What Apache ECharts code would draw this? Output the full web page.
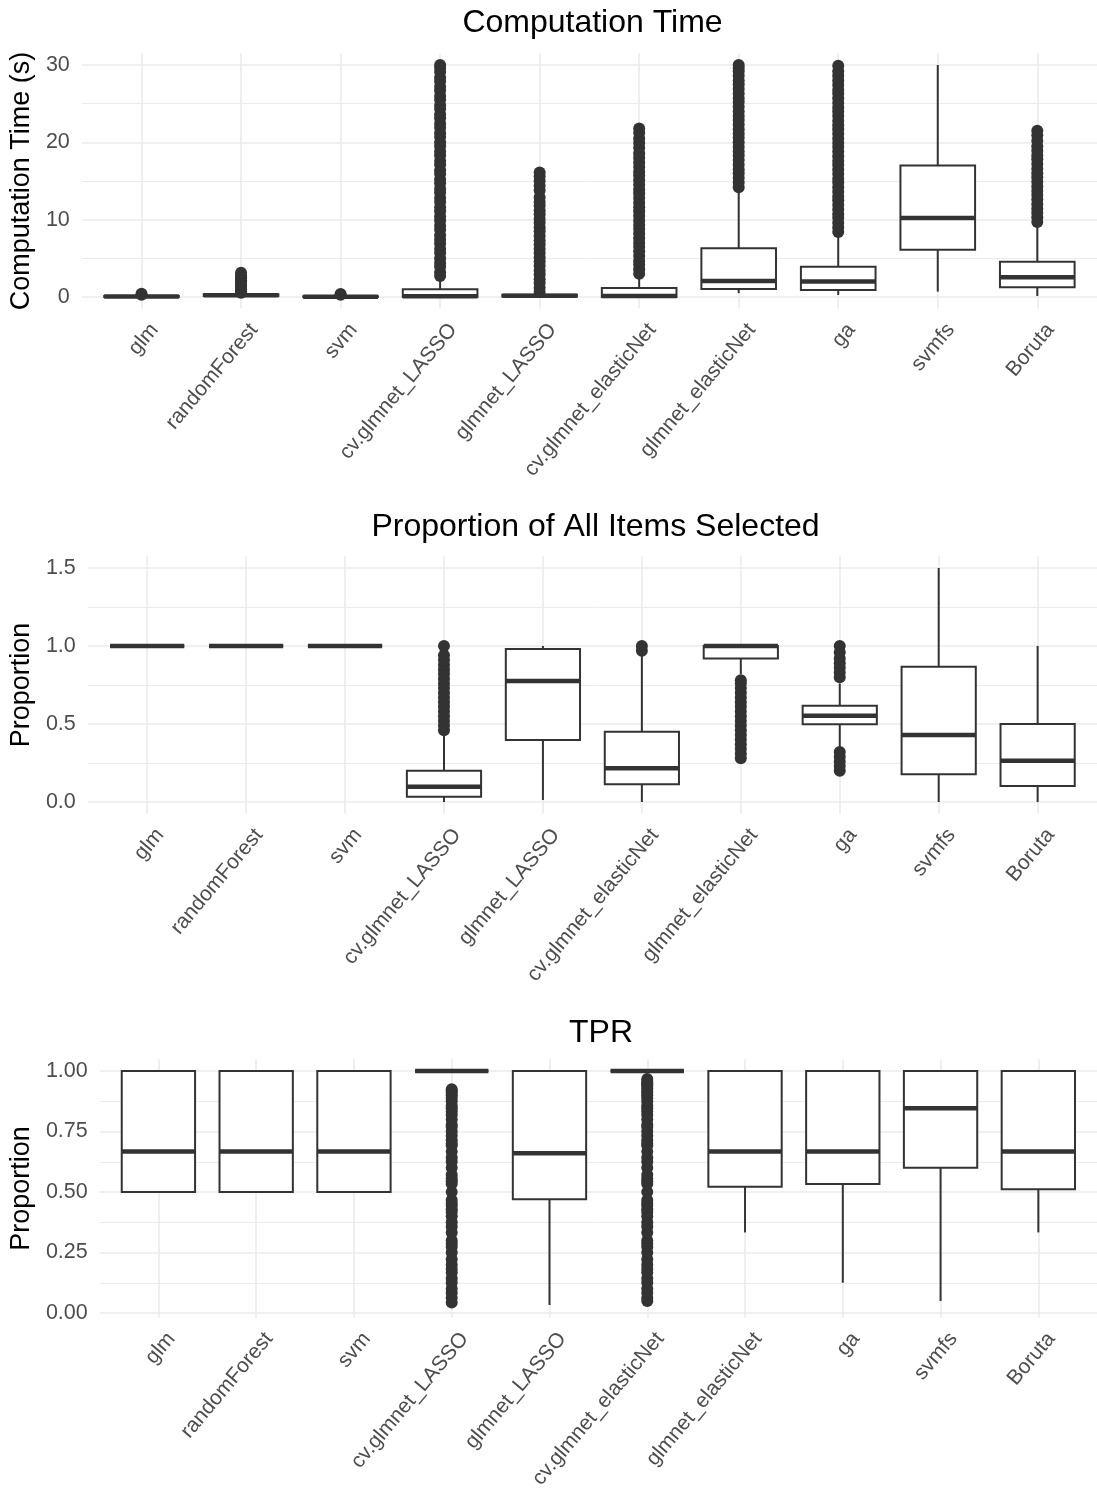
<!DOCTYPE html>
<html>
<head>
<meta charset="utf-8">
<script src="https://cdn.jsdelivr.net/npm/echarts@6/dist/echarts.min.js"></script>
<style>
  html, body { margin: 0; padding: 0; background: #ffffff; }
  #chart { width: 1097px; height: 1492px; }
</style>
</head>
<body>
<div id="chart"></div>
<script>
// ---- data -------------------------------------------------------------
const categories = ['glm', 'randomForest', 'svm', 'cv.glmnet_LASSO', 'glmnet_LASSO',
  'cv.glmnet_elasticNet', 'glmnet_elasticNet', 'ga', 'svmfs', 'Boruta'];

// each row: [lower whisker, Q1, median, Q3, upper whisker]
const timeBoxes = [
  [0.0, 0.01, 0.05, 0.12, 0.25],
  [0.02, 0.12, 0.22, 0.36, 0.5],
  [0.0, 0.01, 0.04, 0.1, 0.22],
  [0.0, 0.0, 0.1, 1.0, 2.6],
  [0.0, 0.08, 0.15, 0.3, 0.6],
  [0.0, 0.0, 0.12, 1.15, 2.8],
  [0.5, 1.03, 2.07, 6.3, 14.0],
  [0.26, 0.9, 2.0, 3.9, 8.2],
  [0.7, 6.1, 10.2, 17.0, 30.0],
  [0.13, 1.25, 2.55, 4.57, 9.5]
];
const timeOutliers = [
  [0.3, 0.42],
  [0.55, 0.75, 0.95, 1.15, 1.35, 1.55, 1.75, 1.95, 2.15, 2.35, 2.55, 2.8, 3.15],
  [0.28, 0.38],
  [2.7, 3.2, 3.9, 4.4, 5.0, 5.7, 6.2, 6.9, 7.4, 8.0, 8.7, 9.2, 9.9, 10.4, 11.1, 11.6, 12.3, 12.8,
   13.5, 14.0, 14.7, 15.2, 15.9, 16.4, 17.1, 17.6, 18.3, 18.8, 19.5, 20.0, 20.7, 21.2, 21.9, 22.4,
   23.1, 23.6, 24.3, 24.8, 25.5, 26.0, 26.7, 27.2, 27.9, 28.4, 29.1, 29.6, 30.0],
  [0.65, 1.2, 1.8, 2.3, 2.9, 3.4, 4.0, 4.6, 5.1, 5.7, 6.2, 6.8, 7.3, 7.9, 8.5, 9.0, 9.6, 10.1,
   10.7, 11.2, 11.8, 12.3, 12.9, 13.8, 14.4, 15.0, 15.6, 16.1],
  [3.0, 3.6, 4.2, 4.7, 5.3, 5.9, 6.5, 7.0, 7.6, 8.2, 8.8, 9.3, 9.9, 10.5, 11.1, 11.6, 12.2, 12.8,
   13.4, 13.9, 14.5, 15.1, 15.7, 16.2, 16.8, 17.4, 18.0, 18.6, 19.3, 19.9, 20.5, 21.2, 21.8],
  [14.2, 14.8, 15.4, 16.0, 16.5, 17.1, 17.7, 18.3, 18.8, 19.4, 20.0, 20.6, 21.1, 21.7, 22.3, 22.9,
   23.4, 24.0, 24.6, 25.2, 25.7, 26.3, 26.9, 27.5, 28.0, 28.6, 29.2, 29.6, 30.0],
  [8.4, 9.0, 9.6, 10.2, 10.7, 11.3, 11.9, 12.5, 13.0, 13.6, 14.2, 14.8, 15.3, 15.9, 16.5, 17.1,
   17.6, 18.2, 18.8, 19.4, 19.9, 20.5, 21.1, 21.7, 22.2, 22.8, 23.4, 24.0, 24.5, 25.1, 25.7, 26.3,
   26.8, 27.4, 28.0, 28.6, 29.2, 29.9],
  [],
  [9.7, 10.3, 10.9, 11.4, 12.0, 12.6, 13.2, 13.7, 14.3, 14.9, 15.5, 16.0, 16.6, 17.2, 17.8, 18.3,
   18.9, 19.5, 20.2, 20.9, 21.5]
];

const propBoxes = [
  [1, 1, 1, 1, 1],
  [1, 1, 1, 1, 1],
  [1, 1, 1, 1, 1],
  [0.0, 0.034, 0.098, 0.2, 0.44],
  [0.013, 0.397, 0.776, 0.98, 1.0],
  [0.0, 0.113, 0.216, 0.45, 0.94],
  [0.82, 0.92, 1.0, 1.0, 1.0],
  [0.354, 0.498, 0.553, 0.617, 0.76],
  [0.0, 0.178, 0.43, 0.867, 1.5],
  [0.0, 0.103, 0.265, 0.5, 1.0]
];
const propOutliers = [
  [], [], [],
  [0.46, 0.49, 0.52, 0.55, 0.58, 0.61, 0.64, 0.67, 0.70, 0.73, 0.76, 0.79, 0.82, 0.85, 0.88,
   0.91, 0.94, 1.0],
  [],
  [0.97, 1.0],
  [0.28, 0.31, 0.34, 0.37, 0.40, 0.43, 0.46, 0.49, 0.52, 0.55, 0.58, 0.61, 0.64, 0.67, 0.70,
   0.73, 0.76, 0.78],
  [0.2, 0.23, 0.26, 0.29, 0.32, 0.80, 0.83, 0.86, 0.89, 0.92, 0.96, 1.0],
  [],
  []
];

const tprBoxes = [
  [0.5, 0.5, 0.667, 1.0, 1.0],
  [0.5, 0.5, 0.667, 1.0, 1.0],
  [0.5, 0.5, 0.667, 1.0, 1.0],
  [1.0, 1.0, 1.0, 1.0, 1.0],
  [0.033, 0.47, 0.66, 1.0, 1.0],
  [1.0, 1.0, 1.0, 1.0, 1.0],
  [0.333, 0.522, 0.667, 1.0, 1.0],
  [0.125, 0.533, 0.667, 1.0, 1.0],
  [0.05, 0.6, 0.846, 1.0, 1.0],
  [0.333, 0.512, 0.667, 1.0, 1.0]
];
const tprOutliers = [
  [], [], [],
  [0.043, 0.0625, 0.083, 0.1, 0.125, 0.143, 0.167, 0.182, 0.2, 0.222, 0.25, 0.273, 0.286, 0.3,
   0.333, 0.357, 0.375, 0.4, 0.417, 0.429, 0.444, 0.455, 0.467, 0.5, 0.533, 0.545, 0.556, 0.571,
   0.6, 0.625, 0.643, 0.667, 0.692, 0.7, 0.714, 0.733, 0.75, 0.769, 0.778, 0.8, 0.818, 0.833,
   0.846, 0.857, 0.875, 0.889, 0.9, 0.909, 0.917, 0.925],
  [],
  [0.05, 0.0625, 0.083, 0.1, 0.125, 0.143, 0.167, 0.182, 0.2, 0.222, 0.25, 0.273, 0.286, 0.3,
   0.333, 0.357, 0.375, 0.4, 0.417, 0.429, 0.444, 0.455, 0.467, 0.5, 0.533, 0.545, 0.556, 0.571,
   0.6, 0.625, 0.643, 0.667, 0.692, 0.7, 0.714, 0.733, 0.75, 0.769, 0.778, 0.8, 0.818, 0.833,
   0.846, 0.857, 0.875, 0.889, 0.9, 0.909, 0.917, 0.929, 0.938, 0.944, 0.95, 0.958, 0.967],
  [], [], [], []
];

const timeTicks = [0, 10, 20, 30];
const timeMinorTicks = [5, 15, 25];
const timeTickLabels = ['0', '10', '20', '30'];
const propTicks = [0, 0.5, 1, 1.5];
const propMinorTicks = [0.25, 0.75, 1.25];
const propTickLabels = ['0.0', '0.5', '1.0', '1.5'];
const tprTicks = [0, 0.25, 0.5, 0.75, 1];
const tprMinorTicks = [0.125, 0.375, 0.625, 0.875];
const tprTickLabels = ['0.00', '0.25', '0.50', '0.75', '1.00'];

// ---- panel layout -----------------------------------------------------
const FONT = "'Liberation Sans', Arial, Helvetica, sans-serif";
const INK = '#333333';
const GRID_COLOR = '#ebebeb';
const LABEL_NUDGE = 0.05;   // category labels sit a touch right of their tick

const panels = [
  { title: 'Computation Time', yName: 'Computation Time (s)', boxes: timeBoxes, outliers: timeOutliers,
    ticks: timeTicks, minor: timeMinorTicks, labels: timeTickLabels,
    yMin: -1.5, yMax: 31.5, left: 80.5, top: 53.4, width: 1024, height: 255.2, titleTop: 7.5 },
  { title: 'Proportion of All Items Selected', yName: 'Proportion', boxes: propBoxes, outliers: propOutliers,
    ticks: propTicks, minor: propMinorTicks, labels: propTickLabels,
    yMin: -0.075, yMax: 1.575, left: 86.5, top: 556.3, width: 1018, height: 257.4, titleTop: 511.5 },
  { title: 'TPR', yName: 'Proportion', boxes: tprBoxes, outliers: tprOutliers,
    ticks: tprTicks, minor: tprMinorTicks, labels: tprTickLabels,
    yMin: -0.0185, yMax: 1.0485, left: 97.8, top: 1059.3, width: 1006.4, height: 258.2, titleTop: 1017.5 }
];

const catPositions = categories.map((_, i) => i + 1);
const catLabelPositions = catPositions.map(v => v + LABEL_NUDGE);

// box, whiskers and a heavier median bar, drawn in axis coordinates
function renderBox(params, api) {
  const x = api.value(0);
  const lo = api.coord([x, api.value(1)]);
  const q1 = api.coord([x, api.value(2)]);
  const med = api.coord([x, api.value(3)]);
  const q3 = api.coord([x, api.value(4)]);
  const hi = api.coord([x, api.value(5)]);
  const half = api.size([1, 0])[0] * 0.375;
  const cx = q1[0];
  return {
    type: 'group',
    children: [
      { type: 'rect', shape: { x: cx - half, y: q3[1], width: half * 2, height: q1[1] - q3[1] },
        style: { fill: '#ffffff', stroke: INK, lineWidth: 2 } },
      { type: 'line', shape: { x1: cx - half, y1: med[1], x2: cx + half, y2: med[1] },
        style: { stroke: INK, lineWidth: 4.5 } },
      { type: 'line', shape: { x1: cx, y1: q3[1], x2: cx, y2: hi[1] },
        style: { stroke: INK, lineWidth: 2 } },
      { type: 'line', shape: { x1: cx, y1: q1[1], x2: cx, y2: lo[1] },
        style: { stroke: INK, lineWidth: 2 } }
    ]
  };
}

const option = {
  animation: false,
  backgroundColor: '#ffffff',
  textStyle: { fontFamily: FONT },
  title: panels.map(p => ({
    text: p.title,
    left: p.left + p.width / 2,
    top: p.titleTop,
    textAlign: 'center',
    padding: 0,
    textStyle: { fontSize: 32, fontWeight: 'normal', color: '#000000', fontFamily: FONT }
  })),
  grid: panels.map(p => ({ left: p.left, top: p.top, width: p.width, height: p.height })),
  xAxis: panels.map((p, i) => ({
    gridIndex: i,
    type: 'value',
    min: 0.4,
    max: 10.6,
    axisLine: { show: false },
    axisTick: { show: false, customValues: catPositions },
    axisLabel: {
      customValues: catLabelPositions,
      formatter: v => categories[Math.round(v) - 1],
      rotate: 50,
      margin: 11,
      align: 'right',
      verticalAlign: 'top',
      fontSize: 21,
      color: '#4d4d4d',
      fontFamily: FONT
    },
    splitLine: { show: true, lineStyle: { color: GRID_COLOR, width: 1.6 } }
  })),
  yAxis: panels.flatMap((p, i) => [
    {
      gridIndex: i,
      type: 'value',
      min: p.yMin,
      max: p.yMax,
      name: p.yName,
      nameLocation: 'middle',
      nameGap: p.left - 35.5,
      nameTextStyle: { fontSize: 27, color: '#000000', fontFamily: FONT },
      axisLine: { show: false },
      axisTick: { show: false, customValues: p.ticks },
      axisLabel: {
        customValues: p.ticks,
        formatter: v => p.labels[p.ticks.indexOf(v)] ?? '',
        margin: 12,
        fontSize: 21.5,
        color: '#4d4d4d',
        fontFamily: FONT
      },
      splitLine: { show: true, lineStyle: { color: GRID_COLOR, width: 1.6 } }
    },
    {
      gridIndex: i,
      type: 'value',
      min: p.yMin,
      max: p.yMax,
      axisLine: { show: false },
      axisTick: { show: false, customValues: p.minor },
      axisLabel: { show: false, customValues: p.minor },
      splitLine: { show: true, lineStyle: { color: GRID_COLOR, width: 1 } }
    }
  ]),
  series: panels.flatMap((p, i) => [
    {
      type: 'scatter',
      xAxisIndex: i,
      yAxisIndex: i * 2,
      symbol: 'circle',
      symbolSize: 12,
      itemStyle: { color: INK, opacity: 1 },
      silent: true,
      z: 2,
      data: p.outliers.flatMap((vals, c) => vals.map(v => [c + 1, v]))
    },
    {
      type: 'custom',
      xAxisIndex: i,
      yAxisIndex: i * 2,
      renderItem: renderBox,
      silent: true,
      clip: false,
      z: 3,
      encode: { x: 0, y: [1, 2, 3, 4, 5] },
      data: p.boxes.map((b, c) => [c + 1].concat(b))
    }
  ])
};

const chart = echarts.init(document.getElementById('chart'), null, { renderer: 'canvas' });
chart.setOption(option);
</script>
</body>
</html>
